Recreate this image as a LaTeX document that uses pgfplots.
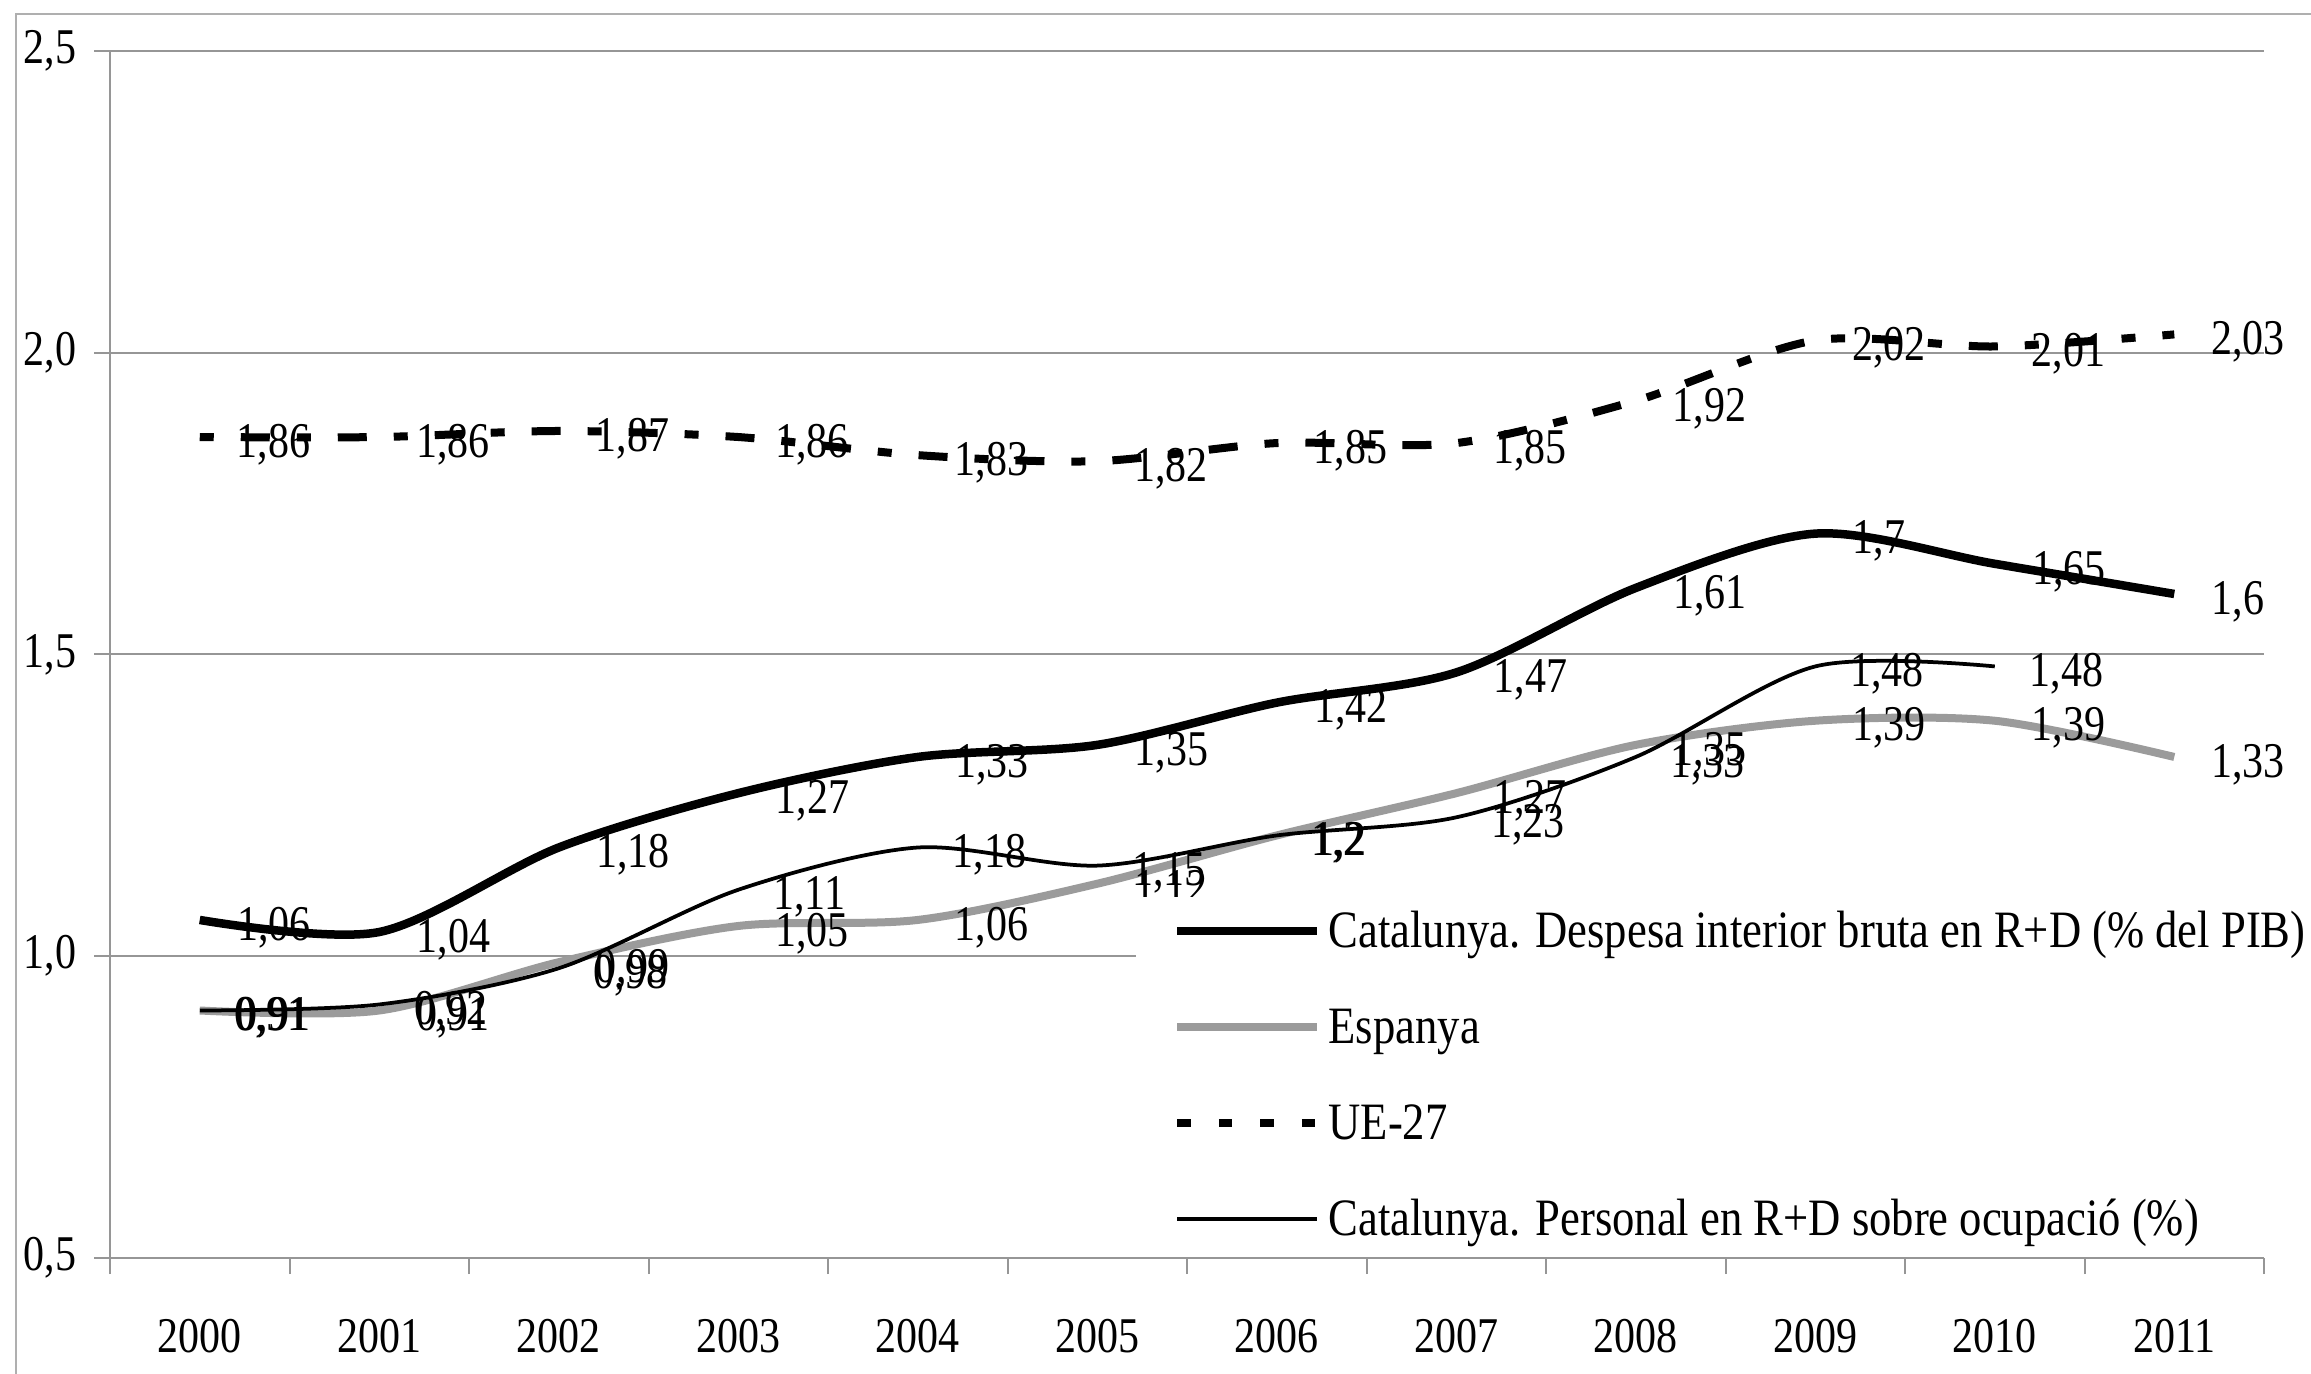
\documentclass[border=0pt]{standalone}
\usepackage{pgfplots}
\pgfplotsset{compat=1.18}
\usepackage{fontspec}
\setmainfont[FakeStretch=0.84]{Liberation Serif}
\newfontfamily\legfont[FakeStretch=0.85]{Liberation Serif}
\definecolor{gridgray}{RGB}{150,150,150}
\definecolor{spgray}{RGB}{155,155,155}
\definecolor{framegray}{RGB}{175,175,175}
\begin{document}
\begin{tikzpicture}
\useasboundingbox (-22pt,-23.2pt) rectangle (440.2pt,251.6pt);
\draw[framegray, line width=0.4pt] (-18.8pt,-30pt) -- (-18.8pt,248.8pt) -- (470pt,248.8pt);
\begin{axis}[
  at={(0pt,0pt)}, anchor=south west,
  scale only axis, width=430.8pt, height=241.46pt,
  xmin=-0.5, xmax=11.5, ymin=0.5, ymax=2.5,
  clip=false,
  axis x line*=bottom, axis y line*=left,
  axis line style={gridgray, line width=0.4pt},
  xtick={-0.5,0.5,...,11.5},
  x tick label as interval,
  xticklabels={2000,2001,2002,2003,2004,2005,2006,2007,2008,2009,2010,2011},
  ytick={0.5,1,1.5,2,2.5},
  yticklabels={{0,5},{1,0},{1,5},{2,0},{2,5}},
  tick align=outside, major tick length=3.2pt,
  tick style={gridgray, line width=0.4pt},
  ymajorgrids, grid style={gridgray, line width=0.4pt},
  xticklabel style={yshift=-5.5pt, font=\normalsize},
  yticklabel style={font=\normalsize},
  /pgf/number format/use comma,
  /pgf/number format/assume math mode=true,
  nodes near coords,
  every node near coord/.append style={anchor=west, xshift=3.3pt, yshift=-1.5pt, text=black, font=\normalsize},
  legend style={at={(0.4759,0.2998)}, anchor=north west, draw=none, fill=white,
    inner xsep=7.4pt, inner ysep=2pt, row sep=9.6pt, column sep=1.4pt,
    nodes={inner sep=0pt, text height=8pt, text depth=1.6pt},
    font=\fontsize{10.5}{12}\legfont},
  legend cell align=left,
  legend image code/.code={\draw[#1] (0pt,0pt) -- (28pt,0pt);},
]
\addplot[black, line width=1.7pt, smooth] coordinates {
 (0,1.06) (1,1.04) (2,1.18) (3,1.27) (4,1.33) (5,1.35) (6,1.42) (7,1.47) (8,1.61) (9,1.70) (10,1.65) (11,1.60)};
\addlegendentry{Catalunya. Despesa interior bruta en R+D (\% del PIB)}
\addplot[spgray, line width=1.6pt, smooth] coordinates {
 (0,0.91) (1,0.91) (2,0.99) (3,1.05) (4,1.06) (5,1.12) (6,1.20) (7,1.27) (8,1.35) (9,1.39) (10,1.39) (11,1.33)};
\addlegendentry{Espanya}
\addplot[black, line width=1.6pt, smooth, dash pattern=on 2.8pt off 5.4pt on 5.8pt off 5.4pt,
  legend image post style={dash pattern=on 2.7pt off 5.6pt}] coordinates {
 (0,1.86) (1,1.86) (2,1.87) (3,1.86) (4,1.83) (5,1.82) (6,1.85) (7,1.85) (8,1.92) (9,2.02) (10,2.01) (11,2.03)};
\addlegendentry{UE-27}
\addplot[black, line width=0.75pt, smooth] coordinates {
 (0,0.91) (1,0.92) (2,0.98) (3,1.11) (4,1.18) (5,1.15) (6,1.20) (7,1.23) (8,1.33) (9,1.48) (10,1.48)};
\addlegendentry{Catalunya. Personal en R+D sobre ocupació (\%)}
\end{axis}
\end{tikzpicture}
\end{document}
